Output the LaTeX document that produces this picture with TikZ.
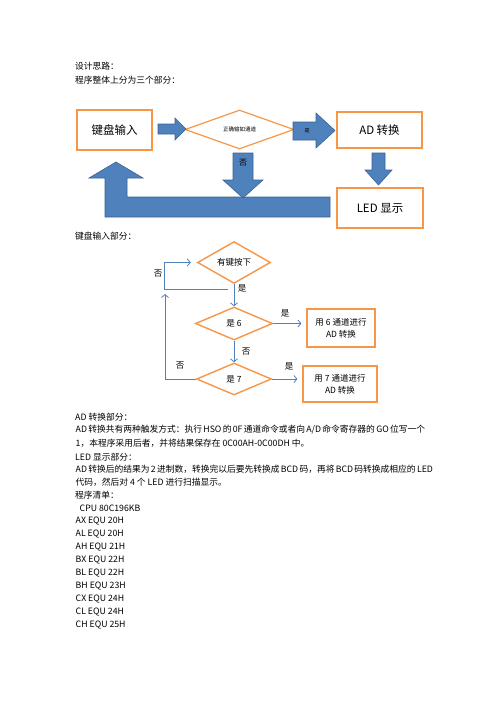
\documentclass[tikz,border=0pt]{standalone}
\usepackage{fontspec}
\setmainfont{Noto Sans CJK SC}
\usetikzlibrary{arrows.meta,shapes.geometric}
\definecolor{boxorange}{HTML}{F79646}
\definecolor{arrowblue}{HTML}{4F81BD}
\definecolor{arrowedge}{HTML}{3A6396}

\begin{document}
\begin{tikzpicture}[x=1pt,y=-1pt,
  doc/.style={anchor=west,inner sep=0pt,font=\fontsize{8.75}{10}\selectfont},
  box/.style={draw=boxorange,line width=1.2pt,fill=white,align=center,
    inner sep=2pt},
  bigbox/.style={box,font=\fontsize{11.5}{13}\selectfont},
  smallbox/.style={box,font=\fontsize{8.5}{12}\selectfont},
  judge/.style={diamond,draw=boxorange,line width=1.4pt,inner sep=0pt,
    align=center,font=\fontsize{8.5}{10}\selectfont},
  blockarrow/.style={fill=arrowblue,draw=arrowedge,line width=0.6pt},
  flow/.style={-{Straight Barb[length=3pt,width=7pt]},draw=arrowblue,
    line width=0.8pt},
  lbl/.style={inner sep=0pt,font=\fontsize{8.5}{10}\selectfont}]
\path[fill=white] (0,0) rectangle (496,702);
% heading text
\node[doc] (title) at (75,66) {设计思路：};
\node[doc] (parts) at (75,80) {程序整体上分为三个部分：};
% overview
\node[bigbox,minimum width=75pt,minimum height=40pt] (kbd) at (114.5,130) {键盘输入};
\node[judge,line width=1.2pt,minimum width=109pt,minimum height=39pt,
  font=\fontsize{5.5}{6}\selectfont] (check) at (239.5,129.5) {正确输如通道};
\node[bigbox,minimum width=85pt,minimum height=36pt] (ad) at (379.5,130) {AD 转换};
\node[bigbox,minimum width=86pt,minimum height=40pt] (led) at (380,208) {LED 显示};
\draw[blockarrow] (158,124) -- (175,124) -- (175,118) -- (186,129) -- (175,140)
  -- (175,134) -- (158,134) -- cycle;
\draw[blockarrow] (293,122) -- (316,122) -- (316,113) -- (335,130.5) -- (316,148)
  -- (316,140) -- (293,140) -- cycle;
\draw[blockarrow] (372,153) -- (385,153) -- (385,170) -- (392,170) -- (378.5,185)
  -- (365,170) -- (372,170) -- cycle;
\draw[blockarrow] (330,197) -- (330,217) -- (105,217) -- (105,178) -- (89,178)
  -- (116,162) -- (143,178) -- (127,178) -- (127,197) -- cycle;
\draw[blockarrow] (233,153) -- (253,153) -- (253,180) -- (263,180) -- (243,198)
  -- (223,180) -- (233,180) -- cycle;
\node[lbl,font=\fontsize{5}{6}\selectfont] (yes0) at (307,131) {是};
\node[lbl,font=\fontsize{8}{9}\selectfont] (no0) at (243,163) {否};
% keyboard part
\node[doc] (kbdpart) at (75,236) {键盘输入部分：};
\node[judge,minimum width=73pt,minimum height=29pt] (key) at (234,262.5) {有键按下};
\node[judge,minimum width=77pt,minimum height=33pt] (six) at (234,323.5) {是 6};
\node[judge,minimum width=75pt,minimum height=32pt] (seven) at (234,379) {是 7};
\node[smallbox,minimum width=68pt,minimum height=38pt] (ch6) at (341,328)
  {用 6 通道进行\\AD 转换};
\node[smallbox,minimum width=74pt,minimum height=36pt] (ch7) at (340,384)
  {用 7 通道进行\\AD 转换};
\coordinate (loopa) at (228,289);
\coordinate (backtop) at (165,294);
\draw[flow] (loopa) -- ++(-64,0) |- ([xshift=-6pt]key.west);
\draw[flow] (key) -- (six);
\draw[flow] (six) -- (seven);
\draw[flow,shorten >=5pt] (six.east) -- (six.east -| ch6.west);
\draw[flow,shorten >=5pt] (seven.east) -- (seven.east -| ch7.west);
\draw[flow] (seven.west) -| (backtop);
\node[lbl] (no1) at (158,274) {否};
\node[lbl] (yes1) at (242,288) {是};
\node[lbl] (yes2) at (285,313) {是};
\node[lbl] (no2) at (246,352) {否};
\node[lbl] (no3) at (180,366) {否};
\node[lbl] (yes3) at (289,366) {是};
% description
\node[doc] (adpart) at (75,417) {AD 转换部分：};
\node[doc] (ad1) at (75.5,430) {\makebox[345pt][s]{AD 转换共有两种触发方式：执行 HSO 的 0F 通道命令或者向 A/D 命令寄存器的 GO 位写一个}};
\node[doc] (ad2) at (75.5,443) {1，本程序采用后者，并将结果保存在 0C00AH-0C00DH 中。};
\node[doc] (ledpart) at (75,457) {LED 显示部分：};
\node[doc] (led1) at (75.5,469) {\makebox[345pt][s]{AD 转换后的结果为 2 进制数，转换完以后要先转换成 BCD 码，再将 BCD 码转换成相应的 LED}};
\node[doc] (led2) at (75.5,482) {代码，然后对 4 个 LED 进行扫描显示。};
\node[doc] (list) at (75,495) {程序清单：};
\node[doc] (cpu) at (79.5,508) {CPU 80C196KB};
\node[doc] (ax) at (75.5,521) {AX EQU 20H};
\node[doc] (al) at (75.5,534) {AL EQU 20H};
\node[doc] (ah) at (75.5,547) {AH EQU 21H};
\node[doc] (bx) at (75.5,560) {BX EQU 22H};
\node[doc] (bl) at (75.5,573) {BL EQU 22H};
\node[doc] (bh) at (75.5,586) {BH EQU 23H};
\node[doc] (cx) at (75.5,599) {CX EQU 24H};
\node[doc] (cl) at (75.5,612) {CL EQU 24H};
\node[doc] (chh) at (75.5,625) {CH EQU 25H};
\end{tikzpicture}
\end{document}
